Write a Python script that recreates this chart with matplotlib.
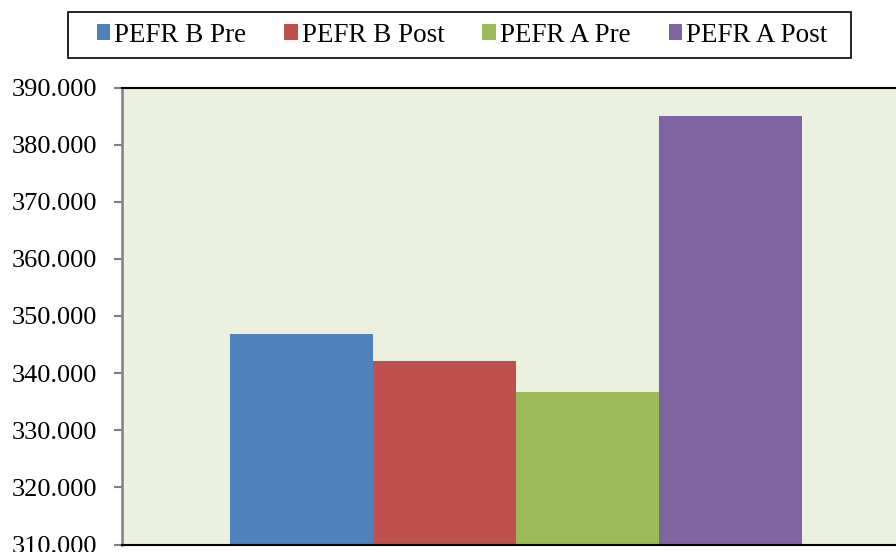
import matplotlib
matplotlib.use("Agg")
import matplotlib.pyplot as plt
from matplotlib.patches import Rectangle
from matplotlib.ticker import FormatStrFormatter

# data
series = ["PEFR B Pre", "PEFR B Post", "PEFR A Pre", "PEFR A Post"]
values = [346.8, 342.1, 336.7, 385.0]
colors = ["#4F81BD", "#C0504D", "#9BBB59", "#8064A2"]
yticks = [310, 320, 330, 340, 350, 360, 370, 380, 390]

plt.rcParams["font.family"] = ["Liberation Serif", "DejaVu Serif"]

W, H = 896, 552
fig = plt.figure(figsize=(W / 100, H / 100), dpi=100)
# plot area: left edge at px 122, top at 87.5, bottom at 544.5
ax = fig.add_axes([122 / W, 7.5 / H, 1 - 122 / W, 457 / H])
ax.set_facecolor("#EBF0DF")

n = len(values)
for i, (name, v, c) in enumerate(zip(series, values, colors)):
    x = i - (n - 1) / 2
    ax.bar(x, v - yticks[0], width=1.0, bottom=yticks[0], color=c, label=name, zorder=2)

# bar width = 143 px, gap before first bar = 108 px
left = -n / 2 - 108 / 143
ax.set_xlim(left, left + 774 / 143)
ax.set_ylim(yticks[0], yticks[-1])
ax.set_yticks(yticks)
ax.yaxis.set_major_formatter(FormatStrFormatter("%.3f"))
ax.set_xticks([])

ax.tick_params(axis="y", direction="out", length=6, width=1.5, color="#808080",
               labelsize=19, pad=12, labelcolor="black")
ax.spines["left"].set_color("#808080")
ax.spines["left"].set_linewidth(1.8)
ax.spines["bottom"].set_color("black")
ax.spines["bottom"].set_linewidth(1.5)
ax.spines["top"].set_color("black")
ax.spines["top"].set_linewidth(1.5)
ax.spines["right"].set_visible(False)

# legend entries, with the box drawn separately (wider than the entries)
fig.legend(loc="center", bbox_to_anchor=(462 / W, 1 - 35 / H),
           bbox_transform=fig.transFigure, ncol=4, fontsize=19.5,
           frameon=False, handlelength=0.5, handleheight=0.5,
           handletextpad=0.15, columnspacing=1.4)
fig.patches.append(Rectangle((68 / W, 1 - 58 / H), (851 - 68) / W, 46 / H,
                             transform=fig.transFigure, fill=False,
                             edgecolor="black", linewidth=1.2))

fig.savefig("out.png", dpi=100)
